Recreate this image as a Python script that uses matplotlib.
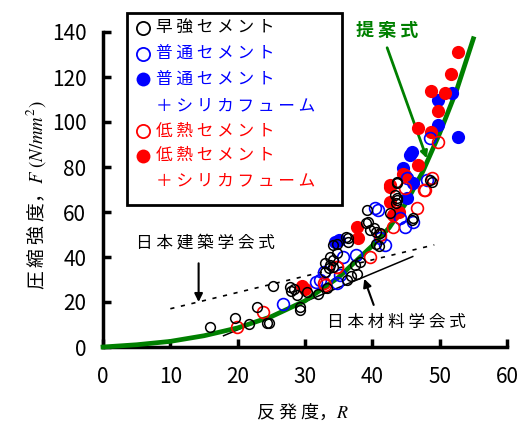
import matplotlib.pyplot as plt
from matplotlib.lines import Line2D
from matplotlib.patches import Rectangle

plt.rcParams['font.family'] = ['Noto Sans CJK JP', 'DejaVu Sans']
plt.rcParams['mathtext.fontset'] = 'stix'

# 早強セメント (黒 白丸)
early_R = [15.9, 19.6, 21.7, 22.9, 24.3, 24.7, 25.2, 27.7, 27.9, 29.3, 30.3, 32.0,
           33.2, 33.0, 33.5, 33.7, 34.2, 34.7, 33.7, 34.2, 36.1, 36.4, 36.2, 36.9,
           37.7, 37.4, 38.2, 39.2, 39.4, 39.7, 40.2, 41.2, 41.0, 40.5, 42.6, 43.6,
           43.4, 43.6, 43.5, 43.7, 45.9, 46.1, 48.6, 48.8, 39.0, 40.6, 34.2, 34.7,
           36.4, 33.0, 28.3, 28.8, 29.3, 43.6]
early_F = [8.8, 13.0, 10.2, 17.9, 10.8, 10.8, 27.1, 26.5, 25.0, 16.4, 24.6, 23.6,
           26.1, 33.5, 35.0, 40.1, 38.7, 41.6, 36.4, 35.7, 49.0, 46.8, 29.8, 31.6,
           32.4, 36.4, 37.9, 60.9, 55.7, 52.0, 52.8, 50.5, 44.9, 46.0, 59.4, 72.8,
           67.6, 65.3, 63.9, 66.1, 56.4, 57.2, 74.2, 73.5, 55.0, 51.2, 45.3, 46.0,
           48.3, 37.2, 26.0, 23.1, 17.9, 73.5]

# 普通セメント (青 白丸)
normal_R = [26.7, 31.7, 32.2, 32.8, 34.7, 35.7, 41.9, 41.2, 40.9, 40.4, 44.1, 44.9,
            46.1, 45.1, 48.1, 48.5, 35.2, 37.5]
normal_F = [19.2, 29.0, 29.8, 33.5, 28.3, 39.9, 45.3, 48.3, 60.9, 61.6, 57.2, 53.5,
            55.7, 75.0, 74.2, 92.7, 32.0, 41.0]

# 普通セメント＋シリカフューム (青 黒丸)
normal_sf_R = [34.5, 35.0, 45.6, 44.6, 46.1, 45.1, 51.8, 49.8, 49.8, 52.7, 45.9]
normal_sf_F = [46.5, 47.5, 85.3, 79.4, 72.8, 66.1, 112.7, 110.0, 98.7, 93.2, 86.8]

# 低熱セメント (赤 白丸)
low_R = [19.9, 23.8, 32.8, 33.0, 34.8, 34.7, 39.7, 41.2, 43.1, 46.6, 47.8, 48.8,
         49.8, 44.9, 47.6]
low_F = [9.0, 15.7, 28.3, 27.6, 35.4, 35.7, 40.1, 49.8, 53.5, 61.6, 69.8, 75.0,
         91.3, 70.5, 69.8]

# 低熱セメント＋シリカフューム (赤 黒丸)
low_sf_R = [29.5, 30.0, 37.7, 37.9, 42.6, 42.6, 43.9, 44.9, 46.8, 46.8, 48.7, 49.8,
            48.7, 50.8, 51.7, 52.7, 44.6, 42.6, 43.1]
low_sf_F = [27.0, 26.0, 53.5, 48.3, 72.0, 64.6, 60.1, 76.4, 80.9, 97.2, 95.7, 105.0,
            113.9, 112.7, 121.3, 131.0, 77.0, 71.2, 58.7]

# 提案式 (読み取り値)
prop_R = [0, 5, 10, 15, 20, 25, 30, 35, 40, 42.5, 45, 47.5, 50, 52.5, 55]
prop_F = [0, 1.0, 2.5, 5.0, 8.5, 13.5, 20.5, 31, 45, 53, 64, 78, 95, 114, 137]

# 日本建築学会式, 日本材料学会式
aij_R = [10, 49.2]
aij_F = [17.0, 45.4]
jsms_R = [17.9, 46.0]
jsms_F = [5.0, 40.2]

legend_items = [
    ('早強セメント', 'black', False),
    ('普通セメント', 'blue', False),
    ('普通セメント', 'blue', True),
    ('＋シリカフューム', 'blue', None),
    ('低熱セメント', 'red', False),
    ('低熱セメント', 'red', True),
    ('＋シリカフューム', 'red', None),
]


def spaced(s):
    return ' '.join(s)


W, H = 521, 425
fig = plt.figure(figsize=(W / 100, H / 100), dpi=100)
ax = fig.add_axes([103 / W, 1 - 347 / H, 404 / W, 315 / H])

ax.plot(aij_R, aij_F, color='black', lw=1.2, ls=(0, (2.5, 4)))
ax.plot(jsms_R, jsms_F, color='black', lw=1.1)
ax.plot(prop_R, prop_F, color='#008000', lw=3.4, clip_on=False, zorder=3)

ax.plot(normal_sf_R, normal_sf_F, 'o', color='blue', ms=9.5, mew=0, zorder=4)
ax.plot(low_sf_R, low_sf_F, 'o', color='red', ms=9.5, mew=0, zorder=4)
ax.plot(normal_R, normal_F, 'o', mfc='none', mec='blue', ms=8.5, mew=1.2, zorder=5)
ax.plot(low_R, low_F, 'o', mfc='none', mec='red', ms=8.5, mew=1.2, zorder=5)
ax.plot(early_R, early_F, 'o', mfc='none', mec='black', ms=7, mew=1.1, zorder=6)

ax.set_xlim(0, 60)
ax.set_ylim(0, 140)
ax.set_xticks(range(0, 61, 10))
ax.set_yticks(range(0, 141, 20))
for side in ['top', 'right']:
    ax.spines[side].set_visible(False)
for side in ['left', 'bottom']:
    ax.spines[side].set_linewidth(2.5)
ax.tick_params(direction='in', length=6, width=2.5, labelsize=15)
ax.tick_params(axis='x', pad=14)
ax.tick_params(axis='y', pad=12)

# 注記
ax.text(4.9, 46.2, spaced('日本建築学会式'), fontsize=12, va='center', ha='left')
ax.annotate('', xy=(14.2, 20.0), xytext=(14.2, 37.2),
            arrowprops=dict(arrowstyle='-|>', color='black', lw=1.5,
                            mutation_scale=12, shrinkA=0, shrinkB=0))
ax.text(33.3, 10.7, spaced('日本材料学会式'), fontsize=12, va='center', ha='left')
ax.annotate('', xy=(38.8, 30.3), xytext=(40.2, 18.7),
            arrowprops=dict(arrowstyle='-|>', color='black', lw=1.5,
                            mutation_scale=12, shrinkA=0, shrinkB=0))
ax.text(37.6, 140.8, spaced('提案式'), fontsize=13, fontweight='bold', color='#008000',
        va='center', ha='left')
ax.annotate('', xy=(48.1, 83.8), xytext=(42.2, 133.0),
            arrowprops=dict(arrowstyle='-|>', color='#008000', lw=2,
                            mutation_scale=10, shrinkA=0, shrinkB=0))

# 凡例
fig.add_artist(Rectangle((127 / W, 1 - 205 / H), 215 / W, 192 / H, fill=False,
                         ec='black', lw=2))
row_y = [28, 53.5, 79, 105.5, 131, 155.5, 180.5]
for (label, col, filled), y in zip(legend_items, row_y):
    fy = 1 - y / H
    if filled is not None:
        if filled:
            fig.add_artist(Line2D([142.5 / W], [fy], marker='o', color=col, ms=10, mew=0))
        else:
            fig.add_artist(Line2D([142.5 / W], [fy], marker='o', mfc='none', mec=col,
                                  ms=9.5, mew=1.3))
    fig.text(156 / W, fy, spaced(label), color=col, fontsize=12, va='center', ha='left')

fig.text(302 / W, 1 - 412 / H, spaced('反発度') + '，$R$', fontsize=13,
         ha='center', va='center')
fig.text(36 / W, 1 - 195 / H, spaced('圧縮強度') + '，$F\\ (N/mm^2)$', fontsize=13.5,
         ha='center', va='center', rotation=90)

fig.savefig('out.png', dpi=100)
